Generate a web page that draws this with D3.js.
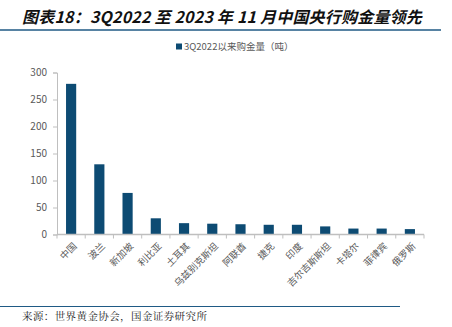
<!DOCTYPE html>
<html><head><meta charset="utf-8">
<script src="https://cdn.jsdelivr.net/npm/d3@7"></script>
<style>body{margin:0;background:#fff;}svg{display:block;}</style>
</head><body>
<script>
const categories = ["中国","波兰","新加坡","利比亚","土耳其","乌兹别克斯坦","阿联酋","捷克","印度","吉尔吉斯斯坦","卡塔尔","菲律宾","俄罗斯"];
const values = [279,130,77,30,21,20,19,18,18,15,11,11,10];
const yTicks = [0,50,100,150,200,250,300];
const seriesName = "3Q2022以来购金量（吨）";
const titleText = "图表18：3Q2022 至 2023 年 11 月中国央行购金量领先";
const sourceText = "来源：世界黄金协会，国金证券研究所";

const W = 452, H = 327;
const svg = d3.select("body").append("svg").attr("width", W).attr("height", H);
const font = "'Noto Sans CJK SC','Liberation Sans',sans-serif";

svg.append("text").attr("x", 22).attr("y", 23)
  .attr("font-family", font).attr("font-size", 16).attr("font-weight", "bold")
  .attr("font-style", "italic").attr("fill", "#111").attr("letter-spacing", 0.2)
  .text(titleText);
svg.append("line").attr("x1", 0).attr("x2", 441).attr("y1", 30).attr("y2", 30)
  .attr("stroke", "#1f5a85").attr("stroke-width", 1.5);

const x = d3.scaleBand().domain(categories).range([57, 424]).paddingInner(0.64).paddingOuter(0.32);
const y = d3.scaleLinear().domain([0, 300]).range([234.5, 72.5]);

// legend
const lg = svg.append("g");
lg.append("rect").attr("x", 176).attr("y", 43.5).attr("width", 6).attr("height", 6).attr("fill", "#0d4b73");
lg.append("text").attr("x", 184).attr("y", 50).attr("font-family", font).attr("font-size", 9.5)
  .attr("fill", "#595959").text(seriesName);

// y axis
const yAxis = svg.append("g").attr("transform", "translate(57,0)")
  .call(d3.axisLeft(y).tickValues(yTicks).tickSize(4).tickPadding(6));
yAxis.select(".domain").attr("stroke", "#bfbfbf");
yAxis.selectAll(".tick line").attr("stroke", "#bfbfbf");
yAxis.selectAll("text").attr("font-family", font).attr("font-size", 10).attr("fill", "#595959");

// bars
svg.append("g").selectAll("rect").data(values).join("rect")
  .attr("x", (d, i) => x(categories[i]))
  .attr("width", x.bandwidth())
  .attr("y", d => y(d))
  .attr("height", d => y(0) - y(d))
  .attr("fill", "#0d4b73");

// x axis
const xg = svg.append("g").attr("transform", `translate(0,${y(0)})`);
xg.append("line").attr("x1", 57).attr("x2", 424).attr("stroke", "#bfbfbf").attr("stroke-width", 1.5);
const bounds = d3.range(categories.length + 1).map(i => 57 + i * (367 / categories.length));
xg.selectAll("line.tk").data(bounds).join("line").attr("class", "tk")
  .attr("x1", d => d).attr("x2", d => d).attr("y1", 0).attr("y2", 4).attr("stroke", "#bfbfbf");
xg.selectAll("text").data(categories).join("text")
  .attr("transform", d => `translate(${x(d) + x.bandwidth() / 2 + 4},10) rotate(-45)`)
  .attr("text-anchor", "end").attr("dy", "0.35em")
  .attr("font-family", font).attr("font-size", 9.5).attr("fill", "#595959")
  .text(d => d);

// footer
svg.append("line").attr("x1", 0).attr("x2", 400).attr("y1", 306.5).attr("y2", 306.5)
  .attr("stroke", "#1f5a85").attr("stroke-width", 1.2);
svg.append("text").attr("x", 22).attr("y", 320).attr("font-family", "'Noto Serif CJK SC','Noto Sans CJK SC',serif")
  .attr("font-size", 10.5).attr("fill", "#222").attr("letter-spacing", 0.4).text(sourceText);
</script>
</body></html>
